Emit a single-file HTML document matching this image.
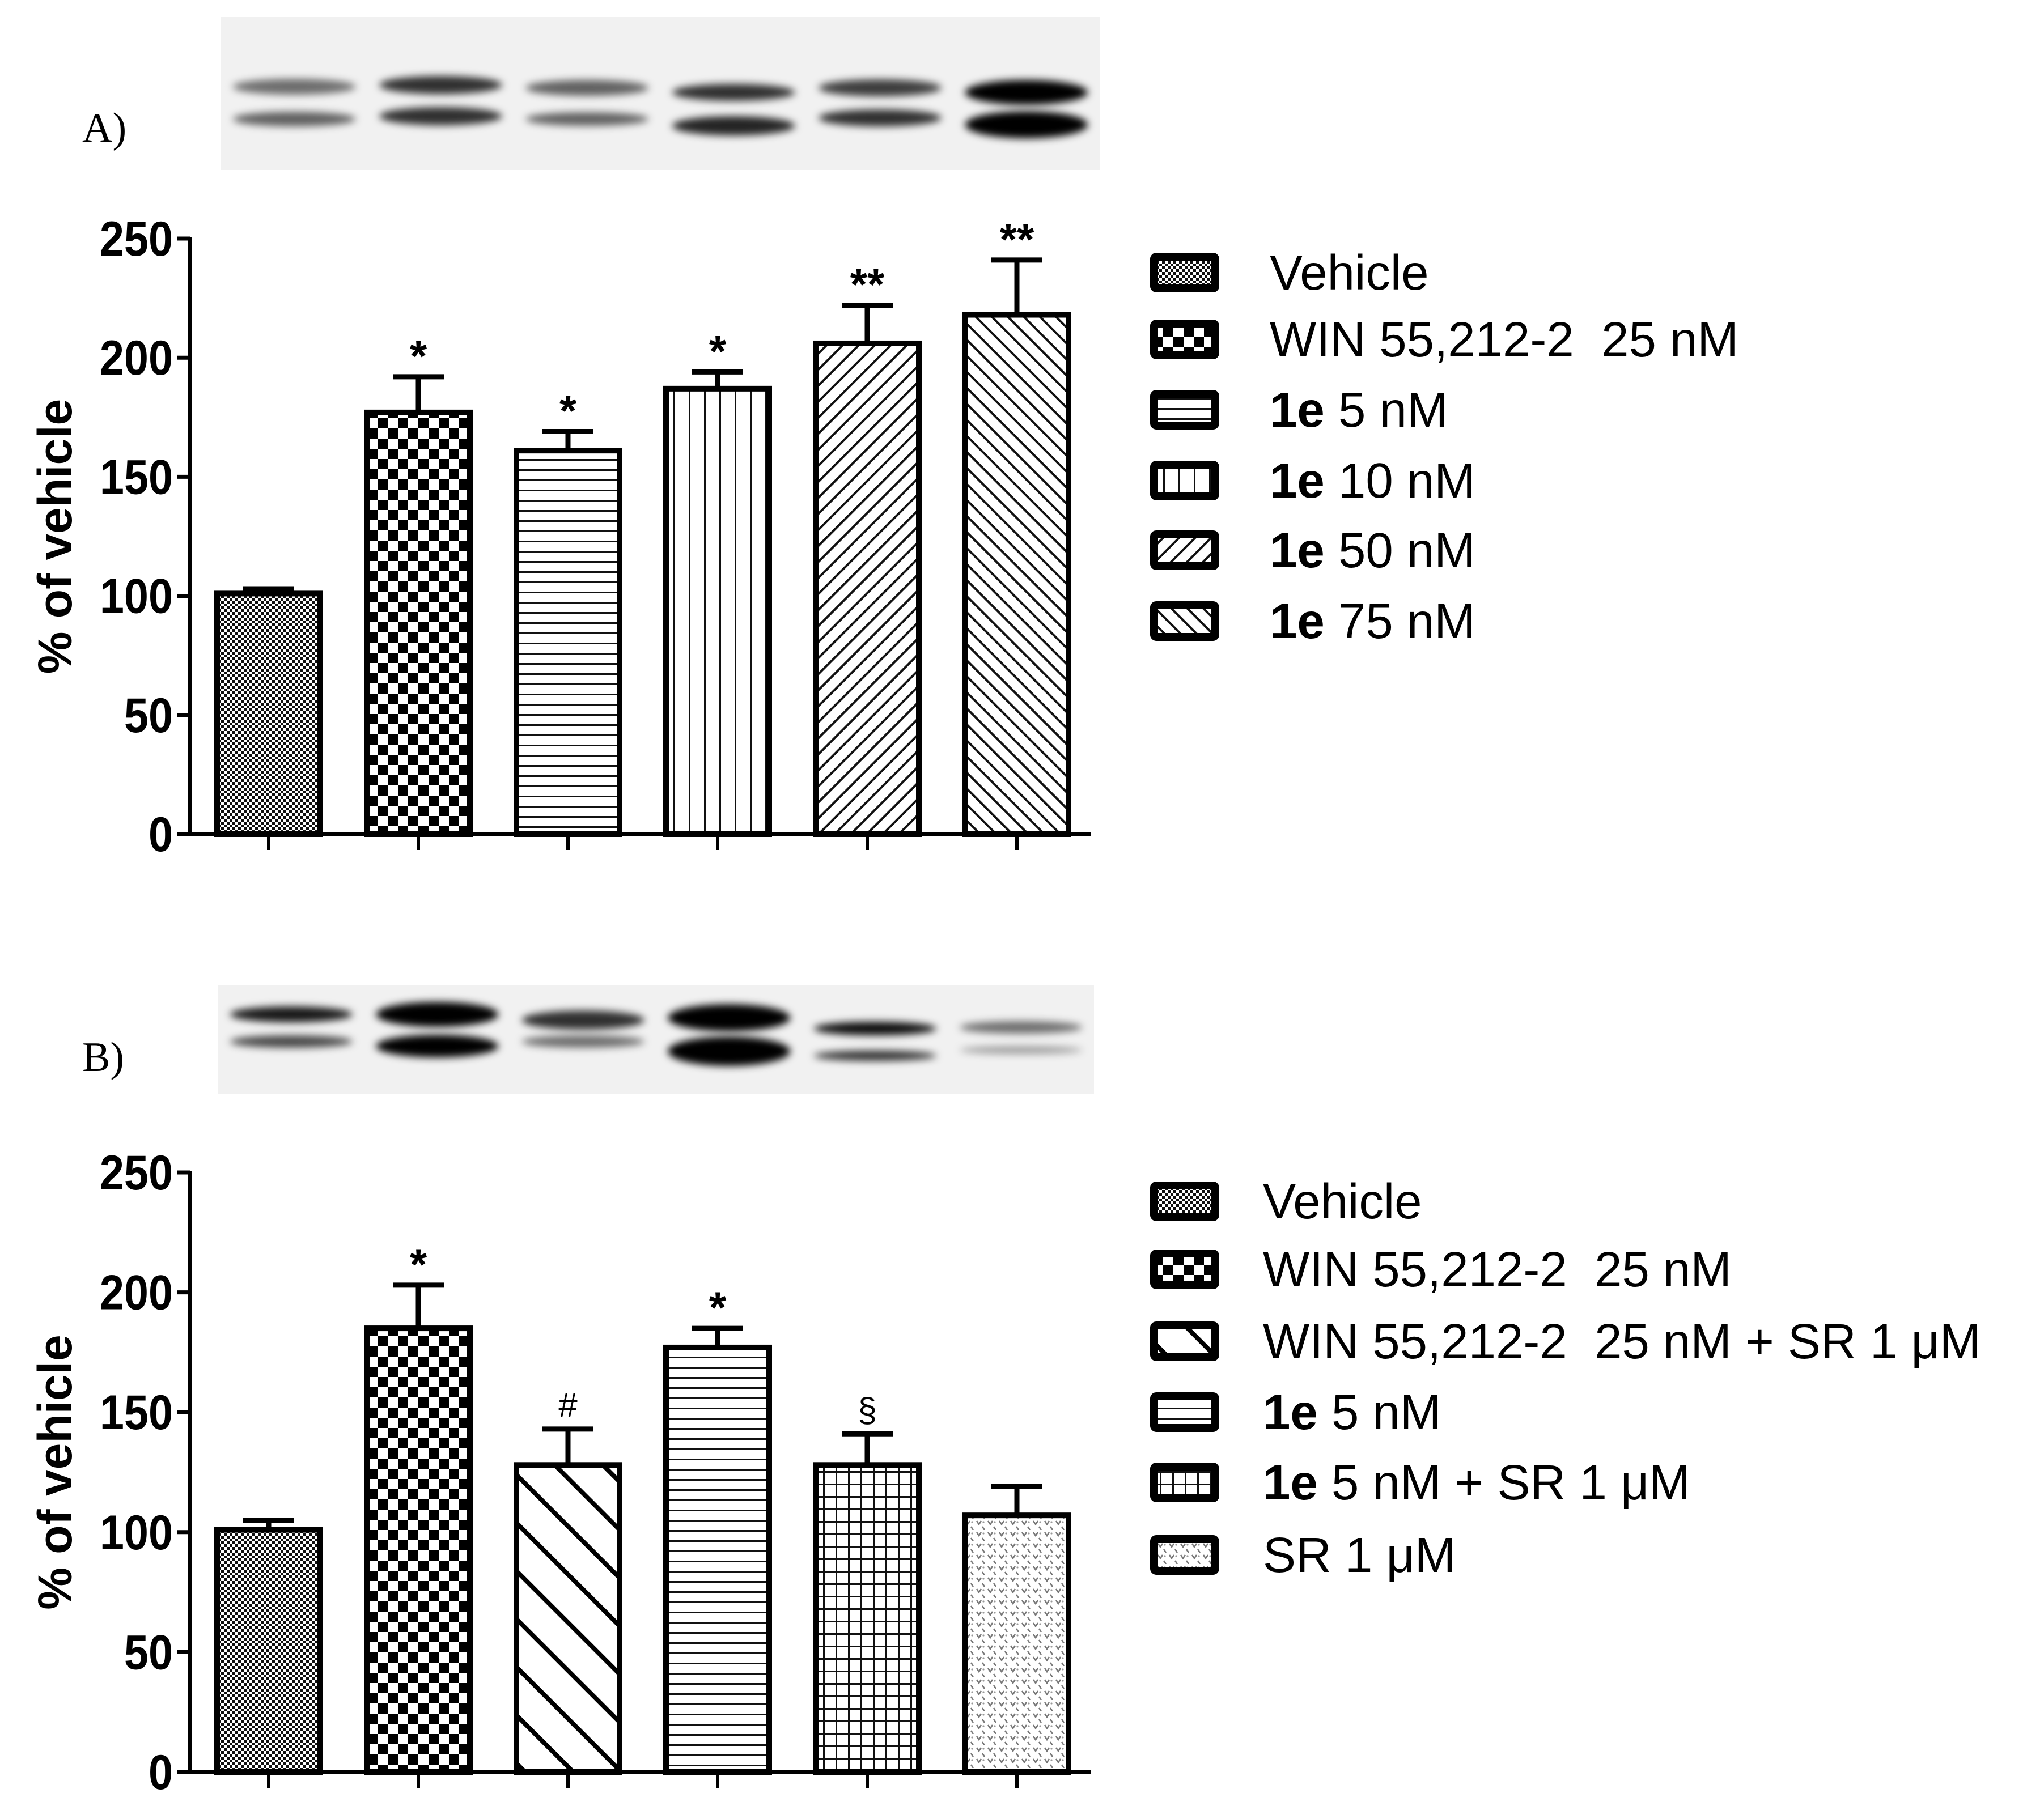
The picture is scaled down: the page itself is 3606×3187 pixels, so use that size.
<!DOCTYPE html>
<html><head><meta charset="utf-8"><style>
html,body{margin:0;padding:0;background:#fff}
svg{display:block}
text{white-space:pre}
</style></head><body>
<svg id="fig" width="3606" height="3187" viewBox="0 0 3606 3187" xmlns="http://www.w3.org/2000/svg">
<defs>
<filter id="blur" x="-20%" y="-100%" width="140%" height="300%"><feGaussianBlur stdDeviation="7"/></filter>
<pattern id="p-veh" width="10" height="10" patternUnits="userSpaceOnUse"><rect width="10" height="10" fill="#fff"/><rect width="5" height="5" fill="#111"/><rect x="5" y="5" width="5" height="5" fill="#111"/></pattern>
<pattern id="p-win" width="36" height="36" patternUnits="userSpaceOnUse"><rect width="36" height="36" fill="#fff"/><rect width="18" height="18" fill="#000"/><rect x="18" y="18" width="18" height="18" fill="#000"/></pattern>
<pattern id="p-hor" width="18" height="18" patternUnits="userSpaceOnUse"><rect width="18" height="18" fill="#fff"/><rect y="0" width="18" height="3" fill="#111"/></pattern>
<pattern id="p-ver" width="27" height="27" patternUnits="userSpaceOnUse"><rect width="27" height="27" fill="#fff"/><rect x="0" width="3" height="27" fill="#111"/></pattern>
<pattern id="p-d50" width="20" height="20" patternUnits="userSpaceOnUse" patternTransform="rotate(45)"><rect width="20" height="20" fill="#fff"/><rect width="4" height="20" fill="#111"/></pattern>
<pattern id="p-d75" width="20" height="20" patternUnits="userSpaceOnUse" patternTransform="rotate(-45)"><rect width="20" height="20" fill="#fff"/><rect width="4" height="20" fill="#111"/></pattern>
<pattern id="p-wsr" width="60" height="60" patternUnits="userSpaceOnUse" patternTransform="rotate(-45)"><rect width="60" height="60" fill="#fff"/><rect width="8" height="60" fill="#000"/></pattern>
<pattern id="p-grid" width="22" height="22" patternUnits="userSpaceOnUse"><rect width="22" height="22" fill="#fff"/><rect width="3" height="22" fill="#111"/><rect width="22" height="3" fill="#111"/></pattern>
<pattern id="p-sr" width="20" height="20" patternUnits="userSpaceOnUse"><rect width="20" height="20" fill="#fff"/><path d="M3 4 L7 10 L11 4 M13 14 L17 20" stroke="#777" stroke-width="2.5" fill="none"/><circle cx="15" cy="6" r="1.6" fill="#999"/></pattern>
</defs>
<g id="root"></g>
</svg>
<script>
// Panel A data
const catsA = ["Vehicle","WIN 55,212-2  25 nM","1e 5 nM","1e 10 nM","1e 50 nM","1e 75 nM"];
const valsA = [101, 177, 161, 187, 206, 218];
const errA = [2, 15, 8, 7, 16, 23];
const sigA = ["", "*", "*", "*", "**", "**"];
const patsA = ["p-veh","p-win","p-hor","p-ver","p-d50","p-d75"];
// Panel B data
const catsB = ["Vehicle","WIN 55,212-2  25 nM","WIN 55,212-2  25 nM + SR 1 \u03bcM","1e 5 nM","1e 5 nM + SR 1 \u03bcM","SR 1 \u03bcM"];
const valsB = [101, 185, 128, 177, 128, 107];
const errB = [4, 18, 15, 8, 13, 12];
const sigB = ["", "*", "#", "*", "\u00a7", ""];
const patsB = ["p-veh","p-win","p-wsr","p-hor","p-grid","p-sr"];
const yTicks = [0, 50, 100, 150, 200, 250];

const NS = "http://www.w3.org/2000/svg";
const root = document.getElementById("root");
function mk(tag, attrs, parent) {
  const e = document.createElementNS(NS, tag);
  for (const k in attrs) e.setAttribute(k, attrs[k]);
  (parent || root).appendChild(e);
  return e;
}

function blot(x0, y0, w, h, bands, name) {
  const g = mk("g", {});
  
  
  mk("rect", {x: x0, y: y0, width: w, height: h, fill: "#f1f1f1"}, g);
  const lw = w / 6;
  bands.forEach((b, i) => {
    const cx = x0 + lw * i + lw / 2;
    mk("ellipse", {cx: cx, cy: b[0], rx: lw * 0.42, ry: b[1], fill: "#000", "fill-opacity": b[2], filter: "url(#blur)"}, g);
    mk("ellipse", {cx: cx, cy: b[3], rx: lw * 0.42, ry: b[4], fill: "#000", "fill-opacity": b[5], filter: "url(#blur)"}, g);
  });
}

function chart(cfg) {
  const {y0, y250, cats, vals, errs, sigs, pats, label, legY, legX, pref} = cfg;
  const axisX = 335, ticksX = 474, step = 264, bw = 182;
  const yS = v => y0 - (v / 250) * (y0 - y250);
  const xS = i => ticksX + i * step;
  const g = mk("g", {});
  
  
  vals.forEach((v, i) => {
    const top = yS(v), cx = xS(i);
    const eTop = yS(v + errs[i]);
    const el = mk("line", {x1: cx, x2: cx, y1: top, y2: eTop, stroke: "#000", "stroke-width": 9}, g);
    
    
    const cap = mk("line", {x1: cx - 45, x2: cx + 45, y1: eTop, y2: eTop, stroke: "#000", "stroke-width": 9}, g);
    
    
    const r = mk("rect", {x: cx - bw / 2, y: top, width: bw, height: y0 - top, fill: "url(#" + pats[i] + ")", stroke: "#000", "stroke-width": 10}, g);
    
    
    if (sigs[i]) {
      const star = sigs[i] === "*" || sigs[i] === "**";
      const t = mk("text", {x: cx, y: eTop - (star ? 10 : 22), "text-anchor": "middle", "font-family": "Liberation Sans, sans-serif", "font-weight": star ? "bold" : "normal", "font-size": star ? 78 : 60, fill: "#000"}, g);
      t.textContent = sigs[i];
      
      
    }
    const tk = mk("line", {x1: cx, x2: cx, y1: y0, y2: y0 + 28, stroke: "#000", "stroke-width": 6}, g);
    
    
  });
  const ya = mk("line", {x1: axisX, x2: axisX, y1: y250 - 2, y2: y0 + 4, stroke: "#000", "stroke-width": 7}, g);
  
  
  const xa = mk("line", {x1: 312, x2: 1925, y1: y0, y2: y0, stroke: "#000", "stroke-width": 7}, g);
  
  
  yTicks.forEach(v => {
    const y = yS(v);
    const l = mk("line", {x1: axisX - 22, x2: axisX, y1: y, y2: y, stroke: "#000", "stroke-width": 7}, g);
    
    
    const t = mk("text", {x: axisX - 30, y: y + 30, "text-anchor": "end", "font-family": "Liberation Sans, sans-serif", "font-weight": "bold", "font-size": 86, fill: "#000", transform: "translate(" + (axisX - 30) + " 0) scale(0.9 1) translate(" + (-(axisX - 30)) + " 0)"}, g);
    t.textContent = v;
    
    
  });
  const yt = mk("text", {x: 0, y: 0, "text-anchor": "middle", "font-family": "Liberation Sans, sans-serif", "font-weight": "bold", "font-size": 84, fill: "#000", transform: "translate(126 " + ((y0 + y250) / 2) + ") rotate(-90)"}, g);
  yt.textContent = "% of vehicle";
  
  
  const pl = mk("text", {x: 145, y: label, "font-family": "Liberation Serif, serif", "font-size": 74, fill: "#000"}, g);
  pl.textContent = pref === "a" ? "A)" : "B)";
  
  
  cats.forEach((c, i) => {
    const cy = legY[i];
    const lg = mk("g", {}, g);
    
    
    mk("rect", {x: 2036, y: cy - 28, width: 108, height: 56, fill: "url(#" + pats[i] + ")", stroke: "#000", "stroke-width": 14, rx: 4}, lg);
    const t = mk("text", {x: legX, y: cy + 30, "font-family": "Liberation Sans, sans-serif", "font-size": 87, fill: "#000"}, lg);
    if (c.startsWith("1e")) {
      const b = document.createElementNS(NS, "tspan");
      b.setAttribute("font-weight", "bold");
      b.textContent = "1e";
      t.appendChild(b);
      t.appendChild(document.createTextNode(c.slice(2)));
    } else {
      t.textContent = c;
    }
  });
}

blot(390, 30, 1550, 270, [
  [153, 14, 0.55, 210, 13, 0.6],
  [150, 16, 0.8, 205, 16, 0.8],
  [155, 14, 0.6, 210, 12, 0.6],
  [163, 15, 0.8, 222, 17, 0.85],
  [155, 15, 0.75, 208, 15, 0.8],
  [163, 22, 1, 220, 24, 1]
], "western-blot-a");
blot(385, 1738, 1545, 192, [
  [1790, 14, 0.9, 1838, 11, 0.7],
  [1790, 22, 1, 1846, 20, 1],
  [1800, 17, 0.8, 1838, 11, 0.55],
  [1796, 24, 1, 1855, 26, 1],
  [1815, 12, 0.95, 1863, 9, 0.8],
  [1813, 11, 0.55, 1853, 7, 0.35]
], "western-blot-b");

chart({y0: 1472, y250: 421, cats: catsA, vals: valsA, errs: errA, sigs: sigA, pats: patsA, label: 250, legY: [481, 599, 723, 848, 971, 1096], legX: 2240, pref: "a"});
chart({y0: 3127, y250: 2069, cats: catsB, vals: valsB, errs: errB, sigs: sigB, pats: patsB, label: 1890, legY: [2120, 2240, 2367, 2492, 2616, 2744], legX: 2228, pref: "b"});
</script>
</body></html>
